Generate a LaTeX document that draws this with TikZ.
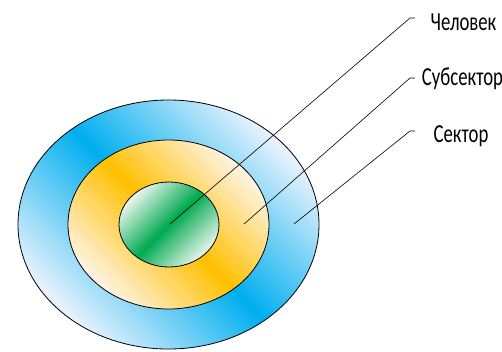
\documentclass[tikz,border=0pt]{standalone}
\usepackage{fontspec}
\newfontfamily\labelfont{Carlito}[FakeStretch=0.72]
\usepackage{tikz}
\usepackage{xcolor}
\usetikzlibrary{arrows.meta}
\definecolor{sectorblue}{RGB}{0,174,239}
\definecolor{sectorlight}{RGB}{235,243,253}
\definecolor{subgold}{RGB}{255,192,0}
\definecolor{sublight}{RGB}{255,244,230}
\definecolor{mangreen}{RGB}{0,170,80}
\definecolor{manlight}{RGB}{236,246,238}
\tikzset{
  ring/.style={draw=black,line width=0.8pt},
  lbl/.style={font=\labelfont\fontsize{26}{28}\selectfont,anchor=base,inner sep=0pt},
  pin/.style={draw=black,line width=0.6pt}
}

\begin{document}
\begin{tikzpicture}[x=1pt,y=-1pt]
\useasboundingbox (0,0) rectangle (502,351);
% rings
\draw[ring,left color=sectorlight,right color=sectorlight,middle color=sectorblue,shading angle=135]
 (168.5,224.5) ellipse [x radius=150.5,y radius=124.5];
\draw[ring,left color=sublight,right color=sublight,middle color=subgold,shading angle=135]
 (168.5,224.5) ellipse [x radius=100.5,y radius=84.5];
\draw[ring,left color=manlight,right color=manlight,middle color=mangreen,shading angle=45]
 (169,224.5) ellipse [x radius=50,y radius=42.5];
% labels
\node[lbl] (chel) at (463.5,30) {Человек};
\node[lbl] (subs) at (462.5,85) {Субсектор};
\node[lbl] (sect) at (461,142) {Сектор};
\coordinate (chelpt) at (170,224);
\coordinate (subspt) at (244,224);
\coordinate (sectpt) at (294,224);
\coordinate (chelbend) at (410,18);
\coordinate (subsbend) at (410,78);
\coordinate (sectbend) at (410,131);
\draw[pin] (chelpt)--(chelbend)--++(5,0);
\draw[pin] (subspt)--(subsbend)--++(5,0);
\draw[pin] (sectpt)--(sectbend)--++(5,0);
\end{tikzpicture}
\end{document}
